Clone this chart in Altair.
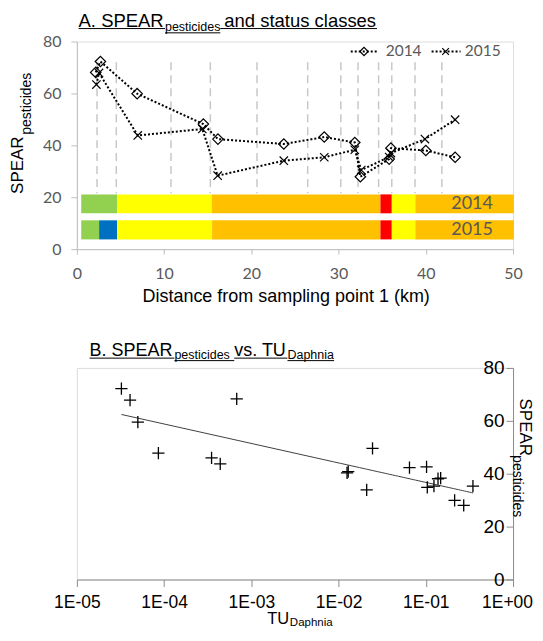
import math
import altair as alt
import pandas as pd

# ---------------- Panel A data ----------------
KM_2014 = [2.16, 2.7, 6.91, 14.5, 16.17, 23.72, 28.36, 31.86, 32.5, 35.8, 36.0, 40.0, 43.36]
SPEAR_2014 = [68.1, 72.3, 59.9, 48.2, 42.4, 40.5, 43.2, 41.1, 27.9, 34.7, 38.9, 38.0, 35.4]
KM_2015 = [2.24, 2.54, 6.98, 14.38, 16.14, 23.72, 28.36, 31.86, 32.6, 35.8, 36.0, 39.9, 43.36]
SPEAR_2015 = [63.4, 67.9, 43.8, 46.3, 28.3, 34.1, 35.4, 38.3, 30.5, 35.5, 37.0, 42.4, 49.9]

DASH_KM = [2.31, 4.52, 10.79, 15.3, 20.65, 26.46, 30.26, 32.23, 34.59, 36.1, 38.76, 41.84]
DASH_TOP = 72
DASH_BOTTOM = 21.5

YEARS = ["2014", "2015"]
CLASSES = ["high", "good", "moderate", "poor", "bad"]
CLASS_COLOURS = ["#0070C0", "#92D050", "#FFFF00", "#FFC000", "#FF0000"]
STATUS_2014 = [(0.5, 4.6, "good"), (4.6, 15.45, "moderate"), (15.45, 34.8, "poor"),
               (34.8, 36.1, "bad"), (36.1, 38.8, "moderate"), (38.8, 50.1, "poor")]
STATUS_2015 = [(0.5, 2.55, "good"), (2.55, 4.6, "high"), (4.6, 15.5, "moderate"),
               (15.5, 34.8, "poor"), (34.8, 36.1, "bad"), (36.1, 38.8, "moderate"),
               (38.8, 50.1, "poor")]
BAR_Y = {"2014": (13.8, 21.1), "2015": (3.75, 11.1)}
BAR_LABEL_KM = 45.3

X_TICKS_A = [0, 10, 20, 30, 40, 50]
Y_TICKS = [0, 20, 40, 60, 80]

# ---------------- Panel B data ----------------
TU = [3.24e-5, 4.07e-5, 5.0e-5, 8.6e-5, 6.8e-4, 3.5e-4, 4.4e-4, 1.25e-2, 1.29e-2,
      2.45e-2, 2.1e-2, 6.5e-2, 0.102, 0.104, 0.124, 0.138, 0.148, 0.214, 0.272, 0.347]
SPEAR_TU = [72.2, 67.8, 59.5, 47.8, 68.3, 46.0, 43.7, 40.3, 40.8,
            49.6, 33.9, 42.3, 42.6, 34.8, 35.3, 38.1, 38.3, 29.9, 28.0, 35.3]
TU_TICKS = [1e-5, 1e-4, 1e-3, 1e-2, 1e-1, 1.0]
TU_TICK_LABELS = ["1E-05", "1E-04", "1E-03", "1E-02", "1E-01", "1E+00"]

# ---------------- styling ----------------
GRAY = "#595959"
AX_A = "#BFBFBF"
AX_B = "#8C8C8C"
F_A = "Lato"
F_T = "Liberation Sans"
W = 437
HA = 208
HB = 212

SX_A = alt.Scale(domain=[0, 50], nice=False, zero=False)
SY = alt.Scale(domain=[0, 80], nice=False)
AXIS_XA = alt.Axis(values=X_TICKS_A, title=None, grid=False, domainColor=AX_A, tickColor=AX_A,
                   tickSize=5, labelFont=F_A, labelFontSize=16, labelColor=GRAY,
                   labelPadding=11, labelFlush=False, labelOverlap=False)
AXIS_YA = alt.Axis(values=Y_TICKS, title=None, grid=False, domainColor=AX_A, tickColor=AX_A,
                   tickSize=6, labelFont=F_A, labelFontSize=16, labelColor=GRAY,
                   labelPadding=10, labelFlush=False)


def XA(f):
    return alt.X(f, type="quantitative", scale=SX_A, axis=AXIS_XA)


def YA(f):
    return alt.Y(f, type="quantitative", scale=SY, axis=AXIS_YA)


ONE = pd.DataFrame({"a": [0]})


def txt(s, x, y, size, font=F_T, color="black", angle=0, align="left", baseline="alphabetic"):
    return alt.Chart(pd.DataFrame({"t": [s]})).mark_text(
        font=font, fontSize=size, color=color, angle=angle, align=align, baseline=baseline
    ).encode(x=alt.value(x), y=alt.value(y), text="t:N")


def hline(x1, x2, y, color="black", width=1.0, dash=None):
    kw = {}
    if dash:
        kw["strokeDash"] = dash
    return alt.Chart(ONE).mark_rule(color=color, strokeWidth=width, **kw).encode(
        x=alt.value(x1), x2=alt.value(x2), y=alt.value(y))


def sym(shape, x, y, size):
    return alt.Chart(ONE).mark_point(shape=shape, size=size, filled=False, color="black",
                                     strokeWidth=1.2, opacity=1).encode(x=alt.value(x), y=alt.value(y))


XSHAPE = "M-1,-1L1,1M1,-1L-1,1"
PLUS = "M-1,0L1,0M0,-1L0,1"

# ---------------- Panel A ----------------
df14 = pd.DataFrame({"km": KM_2014, "spear": SPEAR_2014})
df15 = pd.DataFrame({"km": KM_2015, "spear": SPEAR_2015})

dashes = alt.Chart(pd.DataFrame({"km": DASH_KM})).mark_rule(
    color="#C8C8C8", strokeDash=[8, 5], strokeWidth=1.5
).encode(x=XA("km"), y=alt.datum(DASH_TOP), y2=alt.datum(DASH_BOTTOM))

rows = []
for yr, segs in (("2014", STATUS_2014), ("2015", STATUS_2015)):
    lo, hi = BAR_Y[yr]
    for a, b, c in segs:
        rows.append({"year": yr, "x0": a, "x1": b, "lo": lo, "hi": hi, "cls": c})
bars = alt.Chart(pd.DataFrame(rows)).mark_rect().encode(
    x=XA("x0"), x2="x1", y=YA("lo"), y2="hi",
    color=alt.Color("cls:N", scale=alt.Scale(domain=CLASSES, range=CLASS_COLOURS), legend=None))

lab_df = pd.DataFrame({"year": YEARS, "km": [BAR_LABEL_KM] * 2,
                       "mid": [(BAR_Y[y][0] + BAR_Y[y][1]) / 2 for y in YEARS]})
bar_labels = alt.Chart(lab_df).mark_text(font=F_A, fontSize=18, color=GRAY, align="center",
                                         baseline="middle").encode(x=XA("km"), y=YA("mid"), text="year:N")

line14 = alt.Chart(df14).mark_line(color="black", strokeDash=[2, 2], strokeWidth=2).encode(
    x=XA("km"), y=YA("spear"))
line15 = alt.Chart(df15).mark_line(color="black", strokeDash=[2, 2], strokeWidth=2).encode(
    x=XA("km"), y=YA("spear"))
pts14 = alt.Chart(df14).mark_point(shape="diamond", size=110, filled=False, color="black",
                                   strokeWidth=1.2, opacity=1).encode(x=XA("km"), y=YA("spear"))
pts15 = alt.Chart(df15).mark_point(shape=XSHAPE, size=70, filled=False, color="black",
                                   strokeWidth=1.2, opacity=1).encode(x=XA("km"), y=YA("spear"))

annA = [
    txt("A. SPEAR", 1.7, -14.7, 18.5),
    txt("pesticides", 88.3, -10.7, 12.5),
    txt("and status classes", 147.7, -14.7, 18.5),
    hline(1.7, 88.3, -13),
    hline(88.3, 143.7, -8.7),
    hline(143.7, 300.7, -13),
    txt("SPEAR", -59, 123.9, 17, angle=270, align="center", baseline="middle"),
    txt("pesticides", -49.5, 62.3, 14, angle=270, align="center", baseline="middle"),
    txt("Distance from sampling point 1 (km)", 209.7, 261.2, 18, align="center"),
    # legend
    hline(274.4, 302, 10, width=2, dash=[2, 2]),
    sym("diamond", 287.7, 10, 70),
    txt("2014", 309.4, 10, 15.5, font=F_A, color=GRAY, baseline="middle"),
    hline(355.4, 384.4, 10, width=2, dash=[2, 2]),
    sym(XSHAPE, 369.4, 10, 45),
    txt("2015", 388.7, 10, 15.5, font=F_A, color=GRAY, baseline="middle"),
]

panelA = alt.layer(dashes, bars, bar_labels, line14, line15, pts14, pts15, *annA).properties(
    width=W, height=HA)

# ---------------- Panel B ----------------
label_expr = " : ".join(
    f"abs(log(datum.value)/LN10 - ({round(math.log10(v))})) < 0.1 ? '{lab}'"
    for v, lab in zip(TU_TICKS, TU_TICK_LABELS)) + " : ''"

SX_B = alt.Scale(type="log", domain=[1e-5, 1], nice=False)
AXIS_XB = alt.Axis(values=TU_TICKS, labelExpr=label_expr, title=None, grid=False,
                   domainColor=AX_B, tickColor=AX_B, tickSize=7, labelFont=F_T,
                   labelFontSize=17.5, labelColor="black", labelPadding=7,
                   labelOffset=alt.condition("datum.value > 0.5", alt.value(-6), alt.value(0)),
                   labelFlush=False, labelOverlap=False)
AXIS_YB = alt.Axis(orient="left", offset=-W, values=Y_TICKS, title=None, grid=False,
                   domainColor=AX_B, tickColor=AX_B, tickSize=7, labelFont=F_T,
                   labelFontSize=19, labelColor="black", labelPadding=2, labelFlush=False)


def XB(f):
    return alt.X(f, type="quantitative", scale=SX_B, axis=AXIS_XB)


def YB(f):
    return alt.Y(f, type="quantitative", scale=SY, axis=AXIS_YB)


dfB = pd.DataFrame({"tu": TU, "spear": SPEAR_TU})
ptsB = alt.Chart(dfB).mark_point(shape=PLUS, size=150, filled=False, color="black",
                                 strokeWidth=1.3, opacity=1).encode(x=XB("tu"), y=YB("spear"))
regB = alt.Chart(dfB).transform_regression("tu", "spear", method="log").mark_line(
    color="#404040", strokeWidth=1).encode(x=XB("tu"), y=YB("spear"))

annB = [
    txt("B. SPEAR", 12.7, -11.8, 18),
    txt("pesticides", 97.7, -9.3, 12.5),
    txt("vs. TU", 157.7, -11.8, 18),
    txt("Daphnia", 211, -9.3, 12.5),
    hline(12.7, 97.7, -9.8),
    hline(97.7, 157.7, -7.3),
    hline(157.7, 211, -9.8),
    hline(211, 257.7, -7.3),
    txt("TU", 190.7, 256.5, 16.5),
    txt("Daphnia", 213.4, 259, 11.5),
    txt("SPEAR", 448.7, 59.5, 17, angle=90, align="center", baseline="middle"),
    txt("pesticides", 440.7, 118.5, 14, angle=90, align="center", baseline="middle"),
]

panelB = alt.layer(regB, ptsB, *annB).properties(width=W, height=HB)

chart = alt.vconcat(panelA, panelB, spacing=119, bounds="flush").properties(
    padding={"left": 0, "top": 2, "right": 0, "bottom": 0}
).configure_view(stroke="transparent").configure(background="white")

chart.save("out.html", embed_options={"renderer": "svg", "actions": False})
